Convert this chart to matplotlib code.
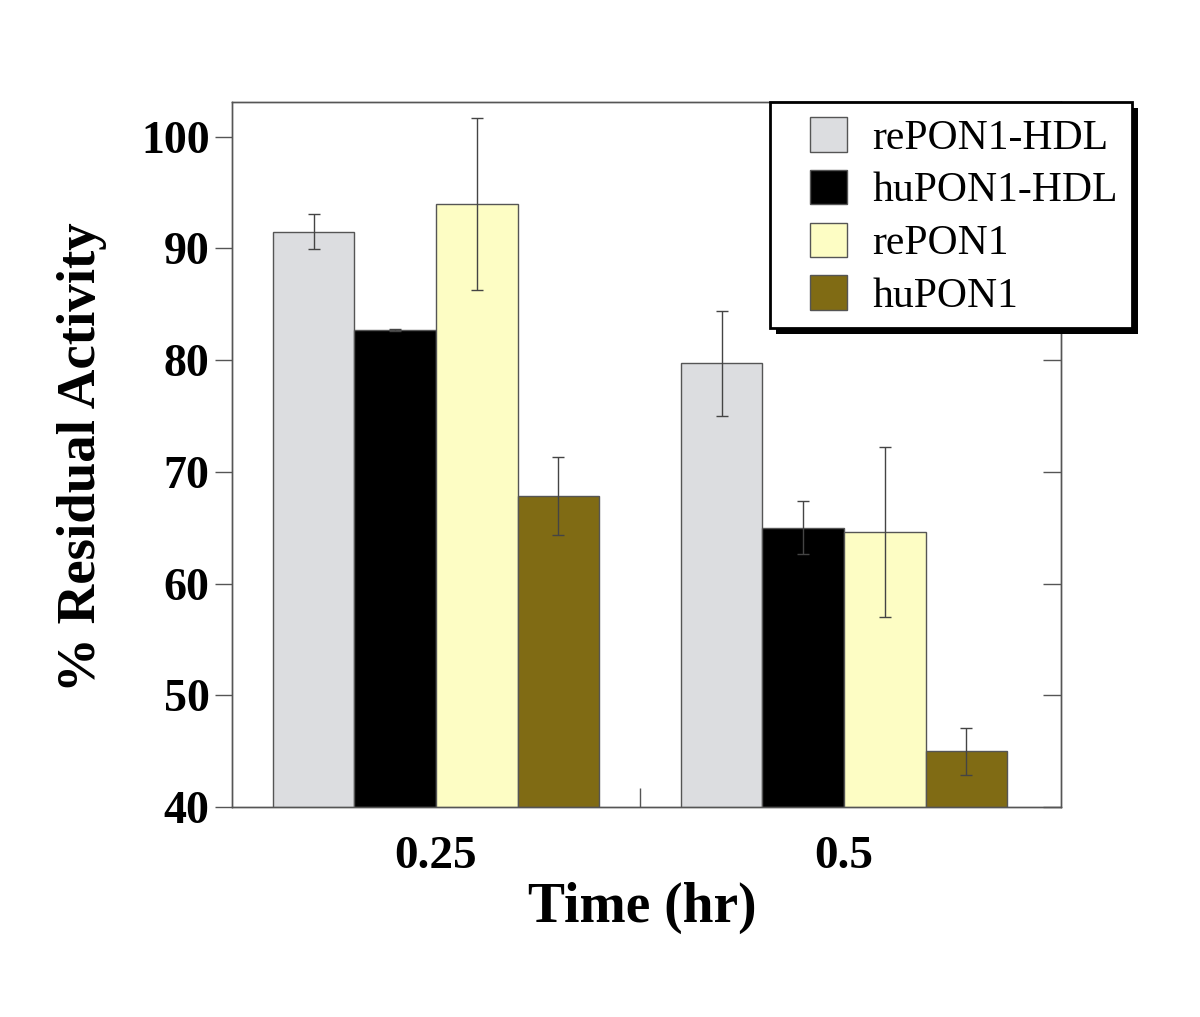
import matplotlib.pyplot as plt
from matplotlib.patches import Rectangle
import numpy as np

# datos
tiempos = ['0.25', '0.5']
series = ['rePON1-HDL', 'huPON1-HDL', 'rePON1', 'huPON1']
valores = [
    [91.5, 79.7],
    [82.7, 65.0],
    [94.0, 64.6],
    [67.8, 45.0],
]
errores = [
    [1.6, 4.7],
    [0.1, 2.4],
    [7.7, 7.6],
    [3.5, 2.1],
]
colores = ['#dcdde0', '#000000', '#fdfdc4', '#806b14']

plt.rcParams['font.family'] = ['Liberation Serif', 'DejaVu Serif']

W, H = 1200, 1017
fig = plt.figure(figsize=(12, 10.17), dpi=100)
ax = fig.add_axes([0.1933, 0.2065, 0.8842 - 0.1933, 0.8997 - 0.2065])

x = np.arange(len(tiempos))
ancho = 0.2
for i, (nombre, vals, errs, c) in enumerate(zip(series, valores, errores, colores)):
    ax.bar(x + (i - 1.5) * ancho, vals, ancho, color=c, edgecolor='#555555',
           linewidth=1, label=nombre, zorder=2)
    ax.errorbar(x + (i - 1.5) * ancho, vals, yerr=errs, fmt='none',
                ecolor='#444444', elinewidth=1, capsize=4, capthick=1, zorder=3)

ax.set_xlim(-0.5, 1.532)
ax.set_ylim(40, 103.1)
ax.set_yticks([40, 50, 60, 70, 80, 90, 100])
ax.set_xticks([0.5])
ax.set_xticklabels([])
ax.tick_params(axis='x', direction='in', length=14, width=1, color='#555555')
ax.tick_params(axis='y', direction='out', length=12, width=1, color='#555555',
               labelsize=33, pad=4)
for lab in ax.get_yticklabels():
    lab.set_fontweight('bold')

# ticks interiores a la derecha
ax2 = ax.twinx()
ax2.set_ylim(ax.get_ylim())
ax2.set_yticks([40, 50, 60, 70, 80, 90, 100])
ax2.set_yticklabels([])
ax2.tick_params(axis='y', direction='in', length=13, width=1, color='#555555')
ax2.patch.set_visible(False)

for sp in list(ax.spines.values()) + list(ax2.spines.values()):
    sp.set_color('#555555')
    sp.set_linewidth(1)

for xi, t in zip(x, tiempos):
    ax.text(xi, 40 - 2.6, t, ha='center', va='top', fontsize=34, fontweight='bold')

fig.text(0.535, 0.107, 'Time (hr)', ha='center', va='center', fontsize=40, fontweight='bold')
fig.text(0.068, 0.550, '% Residual Activity', ha='center', va='center', rotation=90,
         fontsize=39.5, fontweight='bold')

# recuadro de la leyenda con sombra (en pixeles de la figura)
caja_x0, caja_x1, caja_top, caja_bot = 770, 1132, 102, 328
sombra = 6
fig.patches.append(Rectangle(((caja_x0 + sombra) / W, 1 - (caja_bot + sombra) / H),
                             (caja_x1 - caja_x0) / W, (caja_bot - caja_top) / H,
                             transform=fig.transFigure, facecolor='black',
                             edgecolor='none', zorder=20))
fig.patches.append(Rectangle((caja_x0 / W, 1 - caja_bot / H),
                             (caja_x1 - caja_x0) / W, (caja_bot - caja_top) / H,
                             transform=fig.transFigure, facecolor='white',
                             edgecolor='black', linewidth=2, zorder=21))

leg = fig.legend(*ax.get_legend_handles_labels(), loc='upper left',
                 bbox_to_anchor=(810 / W, 1 - 117 / H), fontsize=30,
                 frameon=False, handlelength=0.89, handleheight=0.9,
                 handletextpad=0.6, labelspacing=0.29, borderpad=0,
                 borderaxespad=0)
leg.set_zorder(22)

fig.savefig('out.png', dpi=100)
